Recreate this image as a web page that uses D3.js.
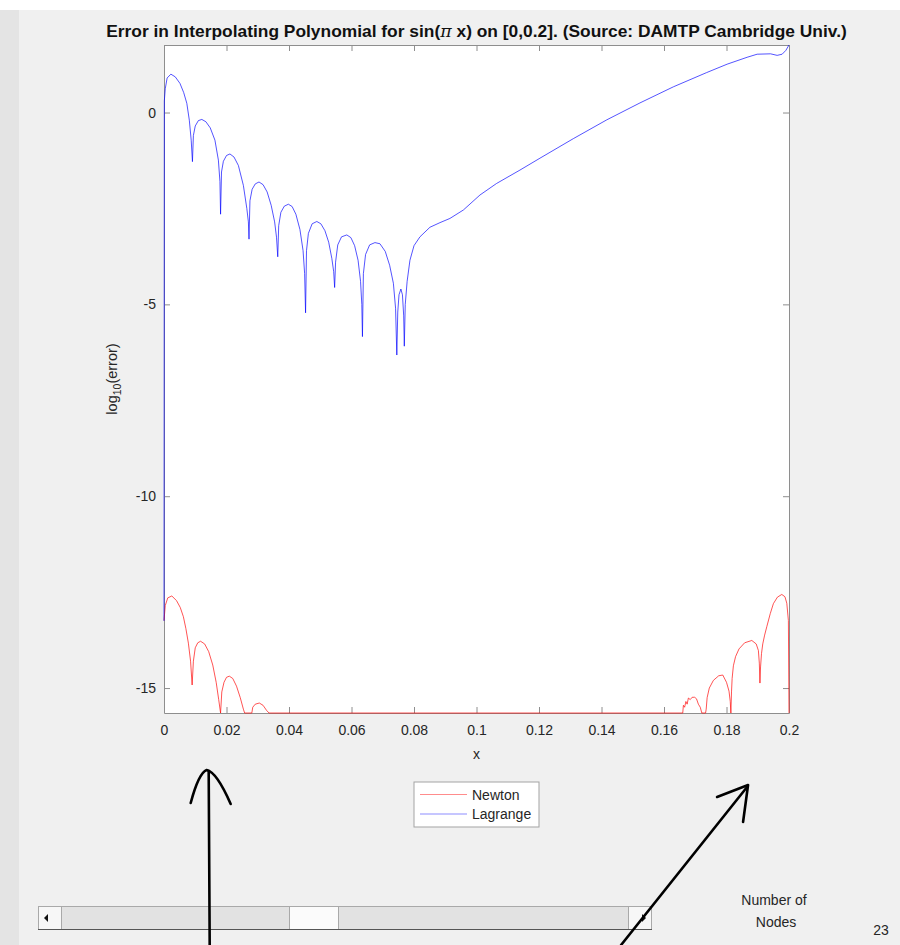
<!DOCTYPE html>
<html>
<head>
<meta charset="utf-8">
<script src="https://cdn.jsdelivr.net/npm/d3@7"></script>
<style>
  body { margin: 0; background: #ffffff; }
  svg { display: block; font-family: "Liberation Sans", Arial, Helvetica, sans-serif; }
</style>
</head>
<body>
<script>
/** Declare constants */
const width = 900;
const height = 945;
const margin = { left: 164, right: 111, top: 45, bottom: 232 };

const xTicks = [0, 0.02, 0.04, 0.06, 0.08, 0.1, 0.12, 0.14, 0.16, 0.18, 0.2];
const xTickLabels = ["0", "0.02", "0.04", "0.06", "0.08", "0.1", "0.12", "0.14", "0.16", "0.18", "0.2"];
const yTicks = [-15, -10, -5, 0];
const yTickLabels = ["-15", "-10", "-5", "0"];
const xDomain = [0, 0.2];
const yDomain = [-15.65, 1.76];
const seriesNames = ["Newton", "Lagrange"];
const seriesColors = ["#ff0000", "#0000ff"];
const nodeCount = 23;

// Newton form: log10 of error (floor at -15.65)
const newtonX = [
    0, 0.0004, 0.0012, 0.0025, 0.0040, 0.0052, 0.0062, 0.0070, 0.0078, 0.0085, 0.0090,
    0.0094, 0.0100, 0.0108, 0.0117, 0.0130, 0.0143, 0.0156, 0.0167, 0.0175, 0.0181,
    0.0185, 0.0192, 0.0200, 0.0209, 0.0220, 0.0232, 0.0244, 0.0254, 0.0258,
    0.0281, 0.0284, 0.0292, 0.0305, 0.0317, 0.0328, 0.0336,
    0.1660, 0.1662, 0.1666, 0.1670, 0.1674, 0.1678, 0.1684, 0.1690, 0.1698, 0.1704, 0.1710, 0.1716, 0.1721,
    0.1733, 0.1735, 0.1738, 0.1745, 0.1758, 0.1775, 0.1788, 0.1800, 0.1808, 0.1812, 0.1814,
    0.1816, 0.1818, 0.1822, 0.1829, 0.1840, 0.1858, 0.1881, 0.1895, 0.1902, 0.1905, 0.1907,
    0.1909, 0.1912, 0.1916, 0.1922, 0.1929, 0.1940, 0.1950, 0.1963, 0.1977, 0.1987, 0.1993, 0.1998, 0.2000
];
const newtonY = [
    -13.24, -12.85, -12.65, -12.60, -12.72, -12.90, -13.14, -13.45, -13.83, -14.30, -14.92,
    -14.30, -13.95, -13.82, -13.78, -13.85, -14.05, -14.40, -14.85, -15.30, -15.65,
    -15.10, -14.85, -14.72, -14.69, -14.75, -14.95, -15.25, -15.55, -15.65,
    -15.65, -15.50, -15.42, -15.39, -15.45, -15.58, -15.65,
    -15.65, -15.45, -15.50, -15.35, -15.42, -15.26, -15.30, -15.24, -15.24, -15.28, -15.42, -15.50, -15.65,
    -15.65, -15.55, -15.25, -15.00, -14.80, -14.68, -14.66, -14.85, -15.08, -15.35, -15.65,
    -15.10, -14.75, -14.42, -14.18, -13.98, -13.82, -13.76, -13.85, -14.02, -14.35, -14.87,
    -14.45, -14.10, -13.85, -13.62, -13.40, -13.06, -12.80, -12.63, -12.56, -12.62, -12.79, -13.24, -15.65
];

// Lagrange form: log10 of error
const lagrangeX = [
    0, 0.0001, 0.0004, 0.0010, 0.0022, 0.0036, 0.0051, 0.0063, 0.0073, 0.0081, 0.0087, 0.0091,
    0.0094, 0.0100, 0.0110, 0.0121, 0.0134, 0.0148, 0.0163, 0.0174, 0.0179, 0.0181,
    0.0184, 0.0190, 0.0200, 0.0211, 0.0224, 0.0238, 0.0254, 0.0265, 0.0270, 0.0272,
    0.0275, 0.0282, 0.0292, 0.0304, 0.0317, 0.0330, 0.0343, 0.0354, 0.0360, 0.0364,
    0.0367, 0.0374, 0.0385, 0.0398, 0.0410, 0.0422, 0.0435, 0.0445, 0.0450, 0.0453,
    0.0456, 0.0462, 0.0474, 0.0489, 0.0502, 0.0515, 0.0527, 0.0537, 0.0543, 0.0546,
    0.0549, 0.0556, 0.0568, 0.0585, 0.0598, 0.0610, 0.0621, 0.0629, 0.0633, 0.0635,
    0.0638, 0.0645, 0.0658, 0.0675, 0.0691, 0.0708, 0.0722, 0.0734, 0.0741, 0.0745,
    0.0748, 0.0752, 0.0758, 0.0763, 0.0767, 0.0769,
    0.0772, 0.0778, 0.0787, 0.0800, 0.0819, 0.0851, 0.0883, 0.0915, 0.0958, 0.1011,
    0.1064, 0.1139, 0.1203, 0.1310, 0.1417, 0.1523, 0.1630, 0.1736, 0.1802, 0.1866,
    0.1898, 0.1941, 0.1962, 0.1978, 0.1990, 0.2000
];
const lagrangeY = [
    -13.25, 0.30, 0.62, 0.90, 1.00, 0.93, 0.76, 0.52, 0.24, -0.20, -0.72, -1.28,
    -0.60, -0.35, -0.21, -0.18, -0.24, -0.40, -0.72, -1.24, -1.80, -2.65,
    -1.55, -1.27, -1.12, -1.08, -1.16, -1.38, -1.90, -2.50, -2.85, -3.30,
    -2.30, -2.00, -1.86, -1.81, -1.88, -2.07, -2.42, -2.85, -3.25, -3.76,
    -2.95, -2.60, -2.44, -2.39, -2.45, -2.65, -3.05, -3.60, -4.20, -5.22,
    -3.60, -3.15, -2.90, -2.84, -2.90, -3.08, -3.38, -3.80, -4.15, -4.56,
    -3.90, -3.45, -3.24, -3.19, -3.26, -3.47, -3.85, -4.40, -5.00, -5.84,
    -4.20, -3.70, -3.45, -3.39, -3.42, -3.62, -3.98, -4.45, -5.10, -6.32,
    -5.20, -4.75, -4.60, -4.75, -5.30, -6.09,
    -5.00, -4.40, -3.85, -3.47, -3.24, -2.99, -2.87, -2.76, -2.54, -2.15,
    -1.85, -1.50, -1.19, -0.68, -0.19, 0.25, 0.67, 1.04, 1.26, 1.44,
    1.52, 1.53, 1.49, 1.52, 1.62, 1.76
];

/** Declare variables */
var svg;
var x_scale, y_scale;
var plotLeft = margin.left, plotRight = width - margin.right;
var plotTop = margin.top, plotBottom = height - margin.bottom;
const textColor = "#262626";
const boxColor = "#8e8e8e";

function generateBackground() {
    svg.append("rect").attr("width", width).attr("height", height).attr("fill", "#ffffff");
    svg.append("rect").attr("x", 0).attr("y", 10).attr("width", width).attr("height", height - 10).attr("fill", "#e4e4e4");
    svg.append("rect").attr("x", 19).attr("y", 10).attr("width", width - 19).attr("height", height - 10).attr("fill", "#f0f0f0");
    svg.append("rect")
        .attr("x", plotLeft).attr("y", plotTop)
        .attr("width", plotRight - plotLeft).attr("height", plotBottom - plotTop)
        .attr("fill", "#ffffff");
}

function generateScale() {
    x_scale = d3.scaleLinear().domain(xDomain).range([plotLeft, plotRight]);
    y_scale = d3.scaleLinear().domain(yDomain).range([plotBottom, plotTop]);
}

function styleAxis(g) {
    g.attr("font-family", "'Liberation Sans', Arial, sans-serif").attr("font-size", 14);
    g.select(".domain").attr("stroke", boxColor);
    g.selectAll(".tick line").attr("stroke", boxColor);
    g.selectAll(".tick text").attr("fill", textColor);
}

function generateAxis() {
    // MATLAB style: ticks point inward, box on all four sides
    var x_axis = d3.axisBottom(x_scale).tickValues(xTicks)
        .tickFormat((d, i) => xTickLabels[i]).tickSize(-6).tickSizeOuter(0).tickPadding(12);
    var y_axis = d3.axisLeft(y_scale).tickValues(yTicks)
        .tickFormat((d, i) => yTickLabels[i]).tickSize(-6).tickSizeOuter(0).tickPadding(8);

    svg.append("g").attr("transform", "translate(0," + plotBottom + ")").call(x_axis).call(styleAxis);
    svg.append("g").attr("transform", "translate(0," + plotTop + ")")
        .call(d3.axisTop(x_scale).tickValues(xTicks).tickFormat("").tickSize(-6).tickSizeOuter(0))
        .call(styleAxis);
    svg.append("g").attr("transform", "translate(" + plotLeft + ",0)").call(y_axis).call(styleAxis);
    svg.append("g").attr("transform", "translate(" + plotRight + ",0)")
        .call(d3.axisRight(y_scale).tickValues(yTicks).tickFormat("").tickSize(-6).tickSizeOuter(0))
        .call(styleAxis);

    svg.append("text")
        .attr("x", (plotLeft + plotRight) / 2)
        .attr("y", plotBottom + 46)
        .attr("text-anchor", "middle")
        .attr("font-size", 14)
        .attr("fill", textColor)
        .text("x");

    var ylab = svg.append("text")
        .attr("transform", "translate(117," + ((plotTop + plotBottom) / 2) + ") rotate(-90)")
        .attr("text-anchor", "middle")
        .attr("font-size", 14.5)
        .attr("fill", textColor);
    ylab.append("tspan").text("log");
    ylab.append("tspan").attr("font-size", 10.5).attr("dy", 4).text("10");
    ylab.append("tspan").attr("dy", -4).text("(error)");
}

function generateTitle() {
    var title = svg.append("text")
        .attr("x", 0).attr("y", 0)
        .attr("text-anchor", "middle")
        .attr("font-size", 16.5)
        .attr("font-weight", "bold")
        .attr("fill", "#111111");
    title.append("tspan").text("Error in Interpolating Polynomial for sin(");
    title.append("tspan").attr("font-family", "'DejaVu Serif', serif").attr("font-style", "italic").attr("font-weight", "normal").text("\u03c0");
    title.append("tspan").text(" x) on [0,0.2]. (Source: DAMTP Cambridge Univ.)");
    // squeeze to the width seen in the reference
    var w = title.node().getComputedTextLength();
    var target = 741;
    title.attr("transform", "translate(" + ((plotLeft + plotRight) / 2) + ",37) scale(" + (target / w) + ",1)");
}

function generateLines() {
    var series = [
        { x: newtonX, y: newtonY, color: seriesColors[0] },
        { x: lagrangeX, y: lagrangeY, color: seriesColors[1] }
    ];
    series.forEach((s) => {
        var line = d3.line()
            .x((d, i) => x_scale(s.x[i]))
            .y((d) => y_scale(d));
        svg.append("path")
            .datum(s.y)
            .attr("d", line)
            .attr("fill", "none")
            .attr("stroke", s.color)
            .attr("stroke-opacity", 0.75)
            .attr("stroke-width", 0.9);
    });
}

function generateLegend() {
    var lx = (plotLeft + plotRight) / 2 - 62.5;
    var ly = plotBottom + 69;
    var legend = svg.append("g").attr("transform", "translate(" + lx + "," + ly + ")");
    legend.append("rect")
        .attr("x", 0).attr("y", 0).attr("width", 125).attr("height", 45)
        .attr("fill", "#ffffff").attr("stroke", "#a3a3a3").attr("stroke-width", 1);
    seriesNames.forEach((name, i) => {
        var yy = 12.5 + i * 19.5;
        legend.append("line")
            .attr("x1", 6).attr("x2", 53).attr("y1", yy).attr("y2", yy)
            .attr("stroke", seriesColors[i]).attr("stroke-opacity", 0.45).attr("stroke-width", 1);
        legend.append("text")
            .attr("x", 58).attr("y", yy + 5)
            .attr("font-size", 14)
            .attr("fill", textColor)
            .text(name);
    });
}

function generateSlider() {
    var g = svg.append("g");
    var top = 906, h = 23;
    // track
    g.append("rect").attr("x", 38.5).attr("y", top + 0.5).attr("width", 613).attr("height", h)
        .attr("fill", "#e2e2e2").attr("stroke", "#a9a9a9");
    // arrow buttons
    [38.5, 628.5].forEach((bx, i) => {
        g.append("rect").attr("x", bx).attr("y", top + 0.5).attr("width", 23).attr("height", h)
            .attr("fill", "#f7f7f7").attr("stroke", "#a9a9a9");
        var cx = bx + (i === 0 ? 8 : 15);
        var dir = i === 0 ? -1 : 1;
        g.append("path")
            .attr("d", "M" + (cx + dir * 2.5) + "," + (top + 12) + " L" + (cx - dir * 1.5) + "," + (top + 8) + " L" + (cx - dir * 1.5) + "," + (top + 16) + " Z")
            .attr("fill", "#111111");
    });
    // thumb
    g.append("rect").attr("x", 289.5).attr("y", top + 0.5).attr("width", 49).attr("height", h)
        .attr("fill", "#fbfbfb").attr("stroke", "#a9a9a9");
    g.append("line").attr("x1", 38).attr("x2", 652).attr("y1", top + h + 0.5).attr("y2", top + h + 0.5)
        .attr("stroke", "#555555").attr("stroke-width", 1.2);

    svg.append("text").attr("x", 774).attr("y", 905).attr("text-anchor", "middle")
        .attr("font-size", 14).attr("fill", textColor).text("Number of");
    svg.append("text").attr("x", 776).attr("y", 927).attr("text-anchor", "middle")
        .attr("font-size", 14).attr("fill", textColor).text("Nodes");
    svg.append("text").attr("x", 881).attr("y", 935).attr("text-anchor", "middle")
        .attr("font-size", 14).attr("fill", textColor).text(String(nodeCount));
}

function generateArrows() {
    // hand-drawn annotation arrows pointing at both ends of the x range
    var g = svg.append("g").attr("fill", "none").attr("stroke", "#000000")
        .attr("stroke-width", 2.6).attr("stroke-linecap", "round").attr("stroke-linejoin", "round");
    var ax = x_scale(0.0143);
    g.append("path").attr("d", "M" + (ax + 1) + "," + height + " L" + ax + ",771");
    g.append("path").attr("d", "M" + (ax - 18) + ",803 Q" + (ax - 10) + ",773 " + (ax - 2) + ",770 Q" + (ax + 8) + ",772 " + (ax + 22) + ",804");
    var bx = x_scale(0.1869);
    g.append("path").attr("d", "M" + (bx - 127) + "," + height + " L" + (bx - 1) + ",787");
    g.append("path").attr("d", "M" + (bx - 31) + ",797 L" + bx + ",785 L" + (bx - 5) + ",822");
}

document.addEventListener("DOMContentLoaded", function () {
    svg = d3.select("body")
        .append("svg")
        .attr("width", width)
        .attr("height", height);
    generateBackground();
    generateScale();
    generateAxis();
    generateLines();
    generateTitle();
    generateLegend();
    generateSlider();
    generateArrows();
});
</script>
</body>
</html>
